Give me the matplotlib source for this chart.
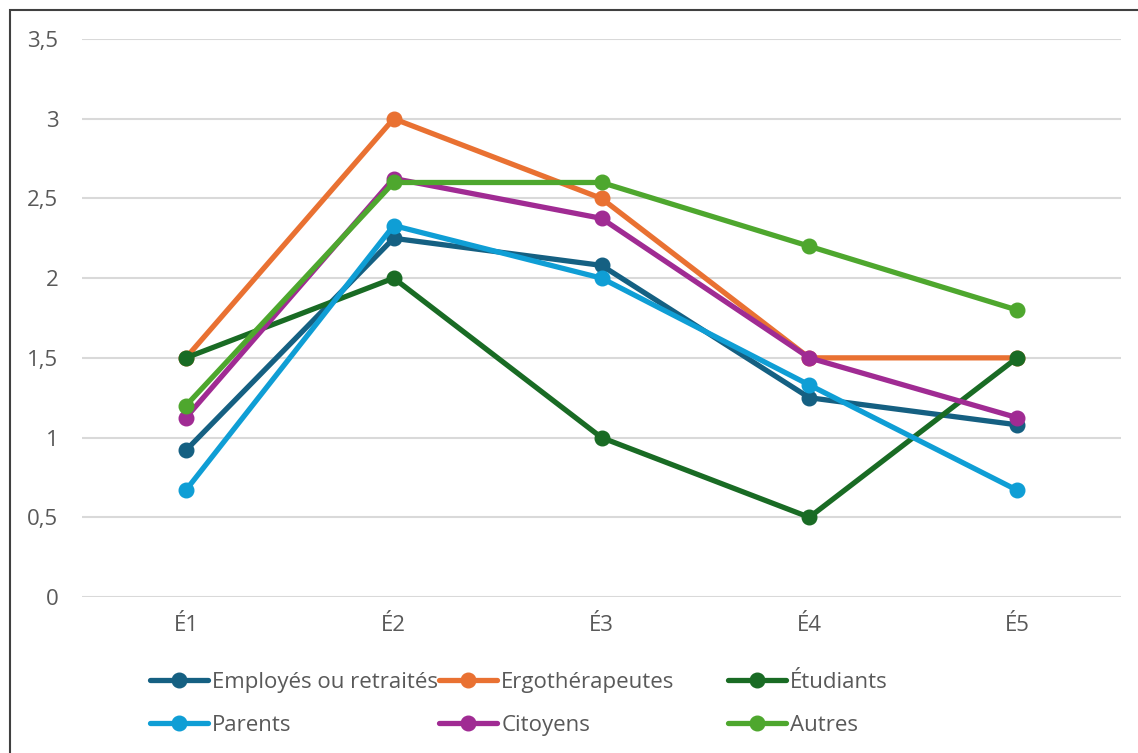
import matplotlib
matplotlib.use('Agg')
import matplotlib.pyplot as plt
from matplotlib.patches import Rectangle
from matplotlib.ticker import FuncFormatter

categories = ['É1', 'É2', 'É3', 'É4', 'É5']
employes = [0.92, 2.25, 2.08, 1.25, 1.08]
ergo = [1.5, 3.0, 2.5, 1.5, 1.5]
etudiants = [1.5, 2.0, 1.0, 0.5, 1.5]
parents = [0.67, 2.33, 2.0, 1.33, 0.67]
citoyens = [1.125, 2.625, 2.375, 1.5, 1.125]
autres = [1.2, 2.6, 2.6, 2.2, 1.8]

series = [
    ('Employés ou retraités', employes, '#156082'),
    ('Ergothérapeutes', ergo, '#E97132'),
    ('Étudiants', etudiants, '#196B24'),
    ('Parents', parents, '#0F9ED5'),
    ('Citoyens', citoyens, '#A02B93'),
    ('Autres', autres, '#4EA72E'),
]

plt.rcParams['font.family'] = ['Open Sans', 'DejaVu Sans']

fig = plt.figure(figsize=(11.38, 7.53), dpi=100)
ax = fig.add_axes([82 / 1138, 1 - 597 / 753, (1121 - 82) / 1138, 558 / 753])

x = list(range(len(categories)))
handles = []
for name, vals, col in series:
    h, = ax.plot(x, vals, color=col, lw=3.8, marker='o', markersize=10.5,
                 solid_capstyle='round', label=name)
    handles.append(h)

ax.set_xlim(-0.5, len(categories) - 0.5)
ax.set_ylim(0, 3.5)
ax.set_yticks([0, 0.5, 1, 1.5, 2, 2.5, 3, 3.5])
ax.yaxis.set_major_formatter(FuncFormatter(lambda v, p: ('%g' % v).replace('.', ',')))
ax.set_xticks(x)
ax.set_xticklabels(categories)
ax.grid(axis='y', color='#D9D9D9', lw=1.5)
ax.set_axisbelow(True)
for s in ax.spines.values():
    s.set_visible(False)
ax.tick_params(axis='both', length=0, labelsize=16, colors='#595959')
ax.tick_params(axis='y', pad=17)
ax.tick_params(axis='x', pad=13)

# legend: three equal-width columns, two rows
col_x = [150 / 1138, 439 / 1138, 728 / 1138]
for i, cx in enumerate(col_x):
    hs = [handles[i], handles[i + 3]]
    fig.legend(hs, [h.get_label() for h in hs], loc='upper left',
               bbox_to_anchor=(cx, 1 - 672 / 753), frameon=False,
               fontsize=16, labelcolor='#595959', handlelength=2.6,
               handletextpad=0.2, labelspacing=1.0, borderpad=0, borderaxespad=0)

fig.patches.append(Rectangle((10 / 1138, -0.1), 1.2, 1.1 - 10 / 753,
                             transform=fig.transFigure, fill=False,
                             edgecolor='#404040', lw=1.5))

fig.savefig('out.png', dpi=100)
